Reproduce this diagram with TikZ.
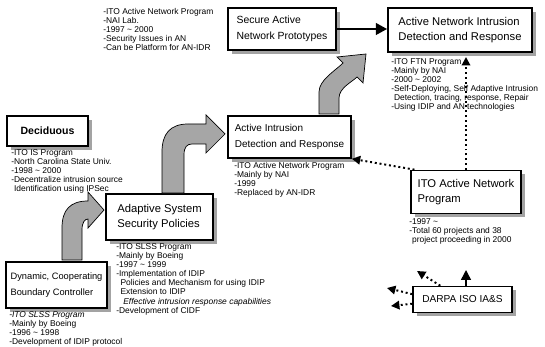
\documentclass[tikz,border=0pt]{standalone}
\usepackage{fontspec}
\setmainfont{Liberation Sans}
\usetikzlibrary{arrows.meta, shadows, positioning, calc}

\tikzset{
  prog/.style={draw, line width=1.1pt, fill=white, align=left,
    font=\fontsize{8}{11}\selectfont, inner sep=0pt,
    drop shadow={shadow xshift=2.5pt, shadow yshift=-2.5pt, fill=black!45, opacity=0.8}},
  info/.style={anchor=north west, align=left, inner sep=0pt,
    font=\fontsize{6}{6.5}\selectfont},
  bentarrow/.style={line width=0.5pt, draw=black, fill=black!35},
  link/.style={dotted, line width=1.4pt, -{Triangle[length=6pt,width=6pt]}},
}

\begin{document}
\begin{tikzpicture}[x=0.025cm, y=-0.025cm]
  \useasboundingbox (0,0) rectangle (545,347);

  % Program boxes
  \node[prog, minimum width=2.7cm, minimum height=1.05cm, font=\fontsize{7.4}{11}\selectfont] (secure) at (282,29) {Secure Active\\Network Prototypes};
  \node[prog, minimum width=3.6cm, minimum height=1.1cm] (anidr) at (460,30) {Active Network Intrusion\\Detection and Response};
  \node[prog, minimum width=2.025cm, minimum height=0.75cm, font=\fontsize{7.5}{11}\selectfont\bfseries] (decid) at (47.5,131) {Deciduous};
  \node[prog, minimum width=3.075cm, minimum height=1.05cm, font=\fontsize{7.1}{11}\selectfont] (aidr) at (289.5,137) {Active Intrusion\\Detection and Response};
  \node[prog, minimum width=2.75cm, minimum height=1.08cm] (itoan) at (466,192) {ITO Active Network\\Program};
  \node[prog, minimum width=2.675cm, minimum height=1.15cm] (adapt) at (159.5,217) {Adaptive System\\Security Policies};
  \node[prog, minimum width=2.525cm, minimum height=1.15cm, font=\fontsize{6.6}{11}\selectfont] (dcbc) at (56.5,285) {Dynamic, Cooperating\\Boundary Controller};
  \node[prog, minimum width=2.475cm, minimum height=0.65cm, font=\fontsize{7.2}{11}\selectfont] (darpa) at (462.5,299.5) {DARPA ISO IA\&S};

  % Notes
  \node[info] (secinfo) at (103,8) {-ITO Active Network Program\\-NAI Lab.\\-1997 \textasciitilde{} 2000\\-Security Issues in AN\\-Can be Platform for AN-IDR};
  \node[info] (anidrinfo) at (391,58) {-ITO FTN Program\\-Mainly by NAI\\-2000 \textasciitilde{} 2002\\-Self-Deploying, Self Adaptive Intrusion\\\phantom{-}Detection, tracing, response, Repair\\-Using IDIP and AN technologies};
  \node[info] (decinfo) at (11,149) {-ITO IS Program\\-North Carolina State Univ.\\-1998 \textasciitilde{} 2000\\-Decentralize intrusion source\\\phantom{-}Identification using IPSec};
  \node[info] (aidrinfo) at (234,162) {-ITO Active Network Program\\-Mainly by NAI\\-1999\\-Replaced by AN-IDR};
  \node[info] (itoinfo) at (409,218) {-1997 \textasciitilde\\-Total 60 projects and 38\\\phantom{-}project proceeding in 2000};
  \node[info] (adaptinfo) at (116,243) {-ITO SLSS Program\\-Mainly by Boeing\\-1997 \textasciitilde{} 1999\\-Implementation of IDIP\\\hspace{3pt}Policies and Mechanism for using IDIP\\\hspace{3pt}Extension to IDIP\\\hspace{5pt}\textit{Effective intrusion response capabilities}\\-Development of CIDF};
  \node[info] (dcbcinfo) at (9,311) {\textit{-ITO SLSS Program}\\-Mainly by Boeing\\-1996 \textasciitilde{} 1998\\-Development of IDIP protocol};

  % Bent arrows
  \draw[bentarrow] (62,260) -- (62,228) .. controls (62,210) and (70,201) .. (88,201) -- (88,192) -- (104,210) -- (88,228) -- (88,219)
    .. controls (85,219) and (82,222) .. (82,230) -- (82,260) -- cycle;
  \draw[bentarrow] (162,193) -- (162,152) .. controls (162,134) and (170,124) .. (188,124) -- (206,124) -- (206,115) -- (225,134) -- (206,153) -- (206,144)
    -- (192,144) .. controls (187,144) and (184,147) .. (184,155) -- (184,193) -- cycle;
  \draw[bentarrow] (319,114) -- (319,92) .. controls (319,80) and (335,71) .. (343,63) -- (337,57) -- (366,54) -- (363,83) -- (357,77)
    .. controls (352,82) and (339,88) .. (339,98) -- (339,114) -- cycle;

  % Links
  \draw[line width=2pt, -{Triangle[length=8pt,width=8pt]}] (secure.east) -- (secure.east -| anidr.west);
  \draw[link, shorten >=3pt] (itoan.north) -- (itoan.north |- anidr.south);
  \draw[link] ([xshift=3pt]itoan.north west) -- (aidr.south east);

  \coordinate (up) at (466,270);
  \coordinate (nw) at (417,271);
  \coordinate (w1) at (387,288);
  \coordinate (w2) at (391,306);
  \draw[line width=1pt, -{Triangle[length=7pt,width=7pt]}] (darpa.north -| up) -- (up);
  \draw[link] ([xshift=20pt]darpa.north west) -- (nw);
  \draw[link] ([yshift=-6pt]darpa.north west) -- (w1);
  \draw[link] ([yshift=-3pt]darpa.west) -- (w2);
\end{tikzpicture}
\end{document}
